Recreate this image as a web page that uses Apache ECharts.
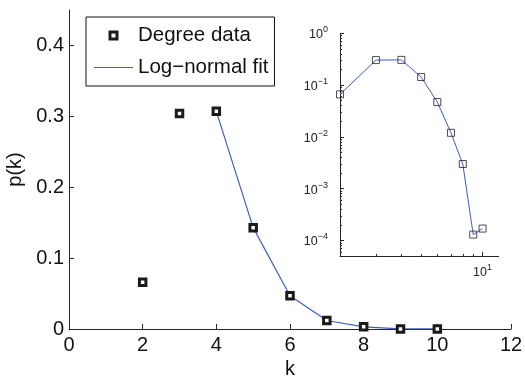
<!DOCTYPE html>
<html>
<head>
<meta charset="utf-8">
<script src="https://cdn.jsdelivr.net/npm/echarts@6/dist/echarts.min.js"></script>
<style>html,body{margin:0;padding:0;background:#fff}#c{width:525px;height:376px}</style>
</head>
<body>
<div id="c"></div>
<script>
// ---- data ----
var degK = [2, 3, 4, 5, 6, 7, 8, 9, 10];
var degP = [0.066, 0.304, 0.307, 0.143, 0.047, 0.012, 0.003, 0.00013, 0.00017];
var fitK = [2, 3, 4, 5, 6, 7, 8, 9, 10];
var fitP = [0.066, 0.304, 0.307, 0.143, 0.047, 0.012, 0.003, 0.00013, 0.00017];
var fitMainStartK = 4;
var mainXTicks = [0, 2, 4, 6, 8, 10, 12];
var mainYTicks = [0, 0.1, 0.2, 0.3, 0.4];
var insetYMajor = [1e-4, 1e-3, 1e-2, 1e-1, 1];
var insetXMajor = [10];
var insetXMinor = [2, 3, 4, 5, 6, 7, 8, 9];
var insetYMinor = [];
[-5, -4, -3, -2, -1].forEach(function (e) {
  for (var m = 2; m <= 9; m++) {
    var v = m * Math.pow(10, e);
    if (v >= 5e-5 && v < 1) insetYMinor.push(+v.toPrecision(3));
  }
});
var legendNames = ['Degree data', 'Log\u2212normal fit'];

var FONT = 'Liberation Sans';
var AX = '#262626';
var BLUE = '#3f5fc4';

function pairs(xs, ys, filt) {
  var out = [];
  for (var i = 0; i < xs.length; i++) if (!filt || filt(xs[i])) out.push([xs[i], ys[i]]);
  return out;
}
function supFmt(v) {
  var e = Math.round(Math.log10(v));
  return '{b|10}{s|' + (e < 0 ? '\u2212' + (-e) : e) + '}';
}
var supRich = {
  b: { fontSize: 12.5, fontFamily: FONT, color: '#222', verticalAlign: 'bottom' },
  s: { fontSize: 9, fontFamily: FONT, color: '#222', verticalAlign: 'bottom', padding: [0, 0, 7, 0] }
};

var chart = echarts.init(document.getElementById('c'), null, { renderer: 'canvas' });
chart.setOption({
  animation: false,
  backgroundColor: '#fff',
  textStyle: { fontFamily: FONT },
  legend: {
    orient: 'vertical', left: 86, top: 17,
    padding: [8, 6, 8, 8], itemGap: 11,
    itemWidth: 39, itemHeight: 7,
    symbolKeepAspect: true,
    borderColor: '#111', borderWidth: 1, backgroundColor: '#fff',
    textStyle: { fontSize: 20.5, color: '#111', fontFamily: FONT },
    data: [
      { name: legendNames[0], icon: 'path://M0,0L10,0L10,10L0,10Z',
        itemStyle: { color: '#fff', borderColor: '#1a1a1a', borderWidth: 3 } },
      { name: legendNames[1], icon: 'path://M0,0L39,0L39,1.2L0,1.2Z',
        itemStyle: { color: BLUE, borderWidth: 0 } }
    ]
  },
  grid: [
    { left: 69, top: 10, right: 14, bottom: 47, containLabel: false, outerBoundsMode: 'none' },
    { left: 340, top: 33.3, right: 26.3, bottom: 119.9, containLabel: false, outerBoundsMode: 'none' }
  ],
  xAxis: [
    {
      gridIndex: 0, type: 'value', min: 0, max: 12, interval: 2, position: 'bottom',
      name: 'k', nameLocation: 'middle', nameGap: 26,
      nameTextStyle: { fontSize: 20, color: '#111', fontFamily: FONT },
      axisLine: { lineStyle: { color: AX, width: 1 } },
      axisTick: { inside: true, length: 5, lineStyle: { color: AX }, customValues: mainXTicks },
      axisLabel: { fontSize: 20, color: '#111', margin: 6, customValues: mainXTicks },
      splitLine: { show: false }
    },
    {
      gridIndex: 1, type: 'log', logBase: 10, min: 2, max: 12, position: 'bottom',
      axisLine: { lineStyle: { color: AX, width: 1 } },
      axisTick: { inside: true, length: 4, lineStyle: { color: AX }, customValues: insetXMajor },
      axisLabel: { margin: 7, customValues: insetXMajor, formatter: supFmt, rich: supRich },
      splitLine: { show: false }
    },
    {
      gridIndex: 1, type: 'log', logBase: 10, min: 2, max: 12, position: 'bottom',
      axisLine: { show: false },
      axisTick: { inside: true, length: 2, lineStyle: { color: AX }, customValues: insetXMinor },
      axisLabel: { show: false },
      splitLine: { show: false }
    }
  ],
  yAxis: [
    {
      gridIndex: 0, type: 'value', min: 0, max: 0.45, position: 'left',
      name: 'p(k)', nameLocation: 'middle', nameGap: 42, nameRotate: 90,
      nameTextStyle: { fontSize: 20, color: '#111', fontFamily: FONT },
      axisLine: { show: true, lineStyle: { color: AX, width: 1 } },
      axisTick: { show: true, inside: true, length: 5, lineStyle: { color: AX }, customValues: mainYTicks },
      axisLabel: { fontSize: 20, color: '#111', margin: 5, customValues: mainYTicks },
      splitLine: { show: false }
    },
    {
      gridIndex: 1, type: 'log', logBase: 10, min: 5e-5, max: 1, position: 'left',
      axisLine: { show: true, lineStyle: { color: AX, width: 1 } },
      axisTick: { show: true, inside: true, length: 4, lineStyle: { color: AX }, customValues: insetYMajor },
      axisLabel: { margin: 12, customValues: insetYMajor, formatter: supFmt, rich: supRich },
      splitLine: { show: false }
    },
    {
      gridIndex: 1, type: 'log', logBase: 10, min: 5e-5, max: 1, position: 'left',
      axisLine: { show: false },
      axisTick: { show: true, inside: true, length: 2, lineStyle: { color: AX }, customValues: insetYMinor },
      axisLabel: { show: false },
      splitLine: { show: false }
    }
  ],
  series: [
    {
      name: legendNames[1], type: 'line', xAxisIndex: 0, yAxisIndex: 0,
      data: pairs(fitK, fitP, function (k) { return k >= fitMainStartK; }),
      symbol: 'none', smooth: false, z: 2,
      lineStyle: { color: BLUE, width: 1.2 }, itemStyle: { color: BLUE }
    },
    {
      name: legendNames[0], type: 'scatter', xAxisIndex: 0, yAxisIndex: 0,
      data: pairs(degK, degP), symbol: 'rect', symbolSize: 6.5, z: 3,
      itemStyle: { color: '#fff', borderColor: '#1a1a1a', borderWidth: 3, opacity: 1 }
    },
    {
      name: 'inset fit', type: 'line', xAxisIndex: 1, yAxisIndex: 1,
      data: pairs(fitK, fitP), symbol: 'none', smooth: false, z: 2,
      lineStyle: { color: BLUE, width: 1 }, itemStyle: { color: BLUE }
    },
    {
      name: 'inset data', type: 'scatter', xAxisIndex: 1, yAxisIndex: 1,
      data: pairs(degK, degP), symbol: 'rect', symbolSize: 7, z: 3,
      itemStyle: { color: 'rgba(255,255,255,0)', borderColor: '#222', borderWidth: 1 }
    }
  ]
});
</script>
</body>
</html>
